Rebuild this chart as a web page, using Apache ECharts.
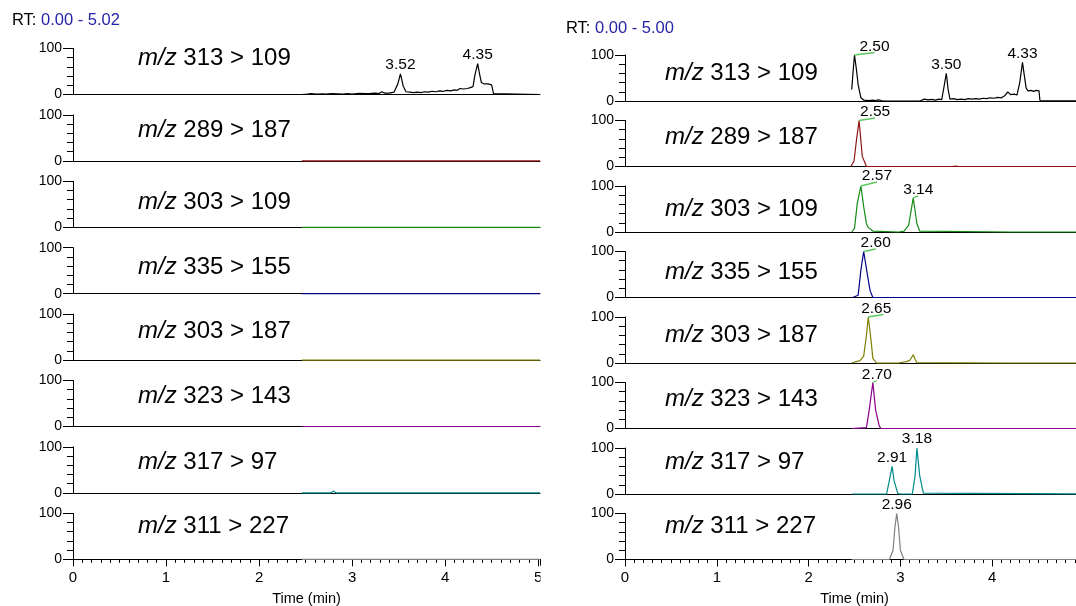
<!DOCTYPE html>
<html>
<head>
<meta charset="utf-8">
<script src="https://cdn.jsdelivr.net/npm/echarts@6/dist/echarts.min.js"></script>
<style>html,body{margin:0;padding:0;background:#fff}#c{width:1076px;height:606px}</style>
</head>
<body>
<div id="c"></div>
<script>
// ---------------- DATA ----------------
const transitions = ['313 > 109', '289 > 187', '303 > 109', '335 > 155', '303 > 187', '323 > 143', '317 > 97', '311 > 227'];
const traceColors = ['#000000', '#8e1414', '#148c14', '#000088', '#808000', '#8b008b', '#008b8b', '#808080'];
const rtLeft = '0.00 - 5.02';
const rtRight = '0.00 - 5.00';
const xMaxLeft = 5.02;
const xMaxRight = 5.00;
const yTickLabels = [0, 100];

// Left run: [time (min), relative abundance]
const left313_109 = [[2.46,0],[2.47,1.5],[2.52,1],[2.56,2],[2.62,1],[2.68,1.5],[2.72,1],[2.78,2],[2.85,1.5],[2.9,1],[2.95,2],[3.0,1],[3.08,2.5],[3.14,2],[3.2,2.5],[3.25,3],[3.29,2],[3.32,6],[3.35,3],[3.4,3],[3.45,5],[3.49,22],[3.52,45],[3.55,18],[3.58,6],[3.62,5],[3.66,4],[3.7,5],[3.74,4],[3.78,6],[3.82,5],[3.86,7],[3.9,6],[3.94,8],[3.98,7],[4.02,9],[4.06,8],[4.1,10],[4.13,9],[4.16,13],[4.2,12],[4.24,13],[4.27,15],[4.3,17],[4.32,42],[4.35,67],[4.37,45],[4.39,26],[4.42,23],[4.44,21],[4.46,23],[4.48,20],[4.5,21],[4.52,2],[4.54,0],[5.02,0]];
const left289_187 = [[2.46,0],[3.56,0],[3.58,2.5],[3.60,0],[5.02,0]];
const left303_109 = [[2.46,0],[3.02,0],[3.04,2],[3.06,0],[3.11,0],[3.12,1.5],[3.13,0],[4.47,0],[4.48,1.5],[4.49,0],[5.02,0]];
const left335_155 = [[2.46,0],[5.02,0]];
const left303_187 = [[2.46,0],[4.21,0],[4.22,2],[4.23,0],[4.30,0],[4.31,2],[4.32,0],[5.02,0]];
const left323_143 = [[2.46,0],[5.02,0]];
const left317_97 = [[2.46,0],[2.77,0],[2.80,4],[2.83,0],[3.59,0],[3.60,2],[3.61,0],[5.02,0]];
const left311_227 = [[2.46,0],[5.02,0]];

// Right run
const right313_109 = [[2.47,25],[2.485,65],[2.50,100],[2.52,70],[2.54,35],[2.57,7],[2.60,2],[2.63,1.5],[2.66,1],[2.70,2],[2.73,1],[2.76,2.5],[2.79,1],[2.82,0],[3.21,0],[3.22,3],[3.26,4],[3.30,2.5],[3.34,3.5],[3.38,2],[3.42,4],[3.45,3],[3.47,25],[3.50,60],[3.52,25],[3.54,4],[3.58,5],[3.62,3],[3.66,4],[3.70,3],[3.74,5],[3.78,4],[3.82,5],[3.86,4],[3.90,6],[3.94,5],[3.98,7],[4.02,6],[4.06,8],[4.10,7],[4.14,12],[4.17,20],[4.20,14],[4.24,15],[4.27,13],[4.30,40],[4.33,84],[4.35,55],[4.37,28],[4.39,22],[4.42,23],[4.45,21],[4.48,23],[4.51,22],[4.52,1],[4.53,0],[5.00,0]];
const right289_187 = [[2.46,0],[2.495,12],[2.52,55],[2.55,100],[2.57,55],[2.585,22],[2.60,18],[2.63,0],[3.56,0],[3.58,2],[3.60,1],[3.62,2],[3.64,0],[3.77,0],[3.78,2],[3.79,0],[5.00,0]];
const right303_109 = [[2.47,0],[2.50,8],[2.53,62],[2.57,100],[2.60,55],[2.63,18],[2.65,10],[2.70,2],[2.72,0],[2.98,0],[2.99,2],[3.00,0],[3.04,2],[3.09,15],[3.14,74],[3.18,18],[3.21,2],[3.23,0],[4.22,0],[4.23,2],[4.24,0],[4.34,0],[4.35,2],[4.36,0],[4.48,0],[4.49,2],[4.50,0],[5.00,0]];
const right335_155 = [[2.48,0],[2.54,5],[2.57,60],[2.60,100],[2.64,50],[2.67,15],[2.70,0],[5.00,0]];
const right303_187 = [[2.47,0],[2.52,3],[2.56,5],[2.60,15],[2.63,60],[2.65,100],[2.68,50],[2.70,10],[2.74,0],[2.98,0],[2.99,3],[3.00,0],[3.06,3],[3.08,6],[3.10,5],[3.12,8],[3.14,18],[3.16,8],[3.18,1],[3.19,0],[4.22,0],[4.23,4],[4.25,0],[4.32,0],[4.33,2],[4.34,0],[5.00,0]];
const right323_143 = [[2.47,0],[2.63,2],[2.66,40],[2.70,100],[2.73,40],[2.77,5],[2.79,0],[5.00,0]];
const right317_97 = [[2.47,0],[2.85,0],[2.88,30],[2.91,60],[2.93,30],[2.97,2],[2.995,0],[3.13,0],[3.16,40],[3.18,100],[3.21,40],[3.25,2],[3.27,0],[5.00,0]];
const right311_227 = [[2.47,0],[2.88,0],[2.92,20],[2.94,70],[2.96,100],[2.98,70],[3.00,20],[3.04,0],[5.00,0]];

// Labelled peaks: [row, retention time]
const leftPeaks = [[0, 3.52], [0, 4.35]];
const rightPeaks = [[0, 2.50], [0, 3.50], [0, 4.33], [1, 2.55], [2, 2.57], [2, 3.14], [3, 2.60], [4, 2.65], [5, 2.70], [6, 2.91], [6, 3.18], [7, 2.96]];

// ---------------- LAYOUT / STYLE ----------------
const leftTraces = [left313_109, left289_187, left303_109, left335_155, left303_187, left323_143, left317_97, left311_227];
const rightTraces = [right313_109, right289_187, right303_109, right335_155, right303_187, right323_143, right317_97, right311_227];
// leader line style per right peak: [labelDx, leaderDx, leaderDy] (pixels) or null
const rightLeaderLayout = [[20,20,-2.5], null, null, [16,16,-2.5], [16,16,-4], [5,5,-2], [12,12,-2.5], [8,15,-2.5], [4,4,-2], null, null, null];
// vertical centre of the transition label below each row's top (pixels)
const leftLabelDy = [9.5, 15, 21.5, 19.5, 17, 15.5, 15, 13];
const rightLabelDy = [18, 16.5, 23, 20.5, 18, 16.5, 14, 12.5];

const FONT = '"Liberation Sans", Arial, Helvetica, sans-serif';
const H = 46;
const panels = [
  {traces: leftTraces, max: xMaxLeft, left: 73, width: 467, bottom0: 94.5, pitch: 66.4, rt: rtLeft, rtX: 12, rtY: 12, labelX: 138, labelDy: leftLabelDy, peaks: leftPeaks, layout: null},
  {traces: rightTraces, max: xMaxRight, left: 625, width: 459, bottom0: 101, pitch: 65.5, rt: rtRight, rtX: 566, rtY: 20, labelX: 665, labelDy: rightLabelDy, peaks: rightPeaks, layout: rightLeaderLayout}
];

const grid = [], xAxis = [], yAxis = [], series = [], title = [];
const gridXAxis = [], gridYAxis = [];
panels.forEach((p) => {
  title.push({
    text: '{a|RT:} {b|' + p.rt + '}', left: p.rtX, top: p.rtY, padding: 0,
    textStyle: {fontSize: 16.5, fontFamily: FONT, fontWeight: 'normal', color: '#000',
      rich: {a: {fontSize: 16.5, fontFamily: FONT, color: '#000'}, b: {fontSize: 16.5, fontFamily: FONT, color: '#2424a8'}}}
  });
  p.traces.forEach((tr, r) => {
    const gi = grid.length;
    const bottomPx = p.bottom0 + r * p.pitch;
    const last = r === p.traces.length - 1;
    grid.push({left: p.left, width: p.width, top: bottomPx - H, height: H, containLabel: false, outerBoundsMode: 'none'});
    gridXAxis.push(xAxis.length);
    xAxis.push({
      gridIndex: gi, type: 'value', position: 'bottom', min: 0, max: p.max, interval: 1,
      axisLine: {show: true, onZero: false, lineStyle: {color: '#000', width: 1}},
      axisTick: {show: last, length: 7, lineStyle: {color: '#000', width: 1}},
      axisLabel: {show: last, margin: 11, fontSize: 15, fontFamily: FONT, color: '#000',
        formatter: v => (Math.abs(v - Math.round(v)) < 1e-9 ? String(Math.round(v)) : '')},
      splitLine: {show: false},
      name: last ? 'Time (min)' : '', nameLocation: 'middle', nameGap: 32,
      nameTextStyle: {fontSize: 14.5, fontFamily: FONT, color: '#000'}
    });
    if (last) {
      // minor ticks every 0.1 min
      xAxis.push({
        gridIndex: gi, type: 'value', position: 'bottom', min: 0, max: p.max, interval: 0.1,
        axisLine: {show: false}, axisLabel: {show: false}, splitLine: {show: false},
        axisTick: {show: true, length: 3.5, lineStyle: {color: '#000', width: 1}}
      });
    }
    gridYAxis.push(yAxis.length);
    yAxis.push({
      gridIndex: gi, type: 'value', position: 'left', min: 0, max: 100, interval: 20,
      axisLine: {show: true, lineStyle: {color: '#000', width: 1}},
      axisTick: {show: true, length: 6, lineStyle: {color: '#000', width: 1}},
      axisLabel: {show: false}, splitLine: {show: false}
    });
    yAxis.push({
      gridIndex: gi, type: 'value', position: 'left', min: 0, max: 100, interval: 100,
      axisLine: {show: false},
      axisTick: {show: true, length: 10, lineStyle: {color: '#000', width: 1}},
      axisLabel: {show: true, margin: 11, fontSize: 14, fontFamily: FONT, color: '#000',
        formatter: v => (yTickLabels.indexOf(v) >= 0 ? String(v) : '')},
      splitLine: {show: false}
    });
    series.push({
      type: 'line', xAxisIndex: gridXAxis[gi], yAxisIndex: gridYAxis[gi], data: tr,
      showSymbol: false, symbol: 'none', clip: false, z: 3,
      lineStyle: {color: traceColors[r], width: 1.2}, itemStyle: {color: traceColors[r]}
    });
    title.push({
      text: '{i|m/z} ' + transitions[r], left: p.labelX, top: bottomPx - H + p.labelDy[r] - 14, padding: 0,
      textStyle: {fontSize: 24, lineHeight: 28, fontFamily: FONT, fontWeight: 'normal', color: '#000',
        rich: {i: {fontStyle: 'italic', fontSize: 24, lineHeight: 28, fontFamily: FONT, color: '#000'}}}
    });
  });
});

const chart = echarts.init(document.getElementById('c'), null, {renderer: 'canvas'});
chart.setOption({animation: false, backgroundColor: '#fff', title, grid, xAxis, yAxis, series});

// Peak labels and leader lines, positioned through the chart's own scales
const elements = [];
panels.forEach((p, pi) => {
  p.peaks.forEach((pk, k) => {
    const row = pk[0], t = pk[1];
    const gi = pi * 8 + row;
    const pt = p.traces[row].find(d => Math.abs(d[0] - t) < 1e-6);
    const [px, py] = chart.convertToPixel({xAxisIndex: gridXAxis[gi], yAxisIndex: gridYAxis[gi]}, [t, pt[1]]);
    const lay = p.layout ? p.layout[k] : null;
    let lx = px, ly = py - 1;
    if (lay) {
      elements.push({type: 'line', z: 50, shape: {x1: px, y1: py, x2: px + lay[1], y2: py + lay[2]},
        style: {stroke: '#5cc65c', lineWidth: 1.3}});
      lx = px + lay[0];
      ly = py + lay[2] + 2;
    }
    elements.push({type: 'text', z: 50, x: lx, y: ly,
      style: {text: t.toFixed(2), font: '15.5px ' + FONT, fill: '#000',
        align: 'center', verticalAlign: 'bottom', textAlign: 'center', textVerticalAlign: 'bottom'}});
  });
});
// the left run's picture is cut at its right edge
elements.push({type: 'rect', z: 100, shape: {x: 540.5, y: 565, width: 30, height: 26}, style: {fill: '#fff'}});
chart.setOption({graphic: {elements}});
</script>
</body>
</html>
